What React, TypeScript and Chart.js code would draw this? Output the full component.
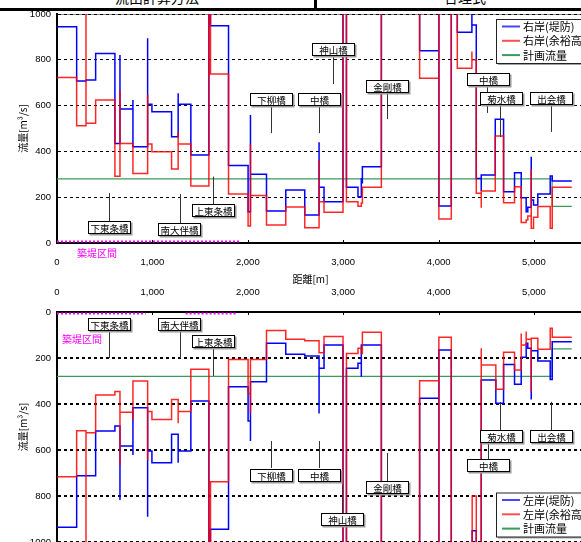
import React, { useEffect, useRef } from 'react';
import { Chart, registerables } from 'chart.js';

Chart.register(...registerables);

// ---------- data (distance [m] / flow [m3/s]) ----------
// Upper chart: right bank. Each value holds from its distance up to the next distance.
const rightLeveeDist = [0, 206, 304, 405, 607, 660, 660, 796, 796, 950, 950, 995, 1201, 1270, 1270, 1403, 1592, 1609, 1798, 2003, 2028, 2028, 2196, 2398, 2597, 2747, 2747, 2799, 2998, 3034, 3155, 3190, 3190, 3201, 3400, 3801, 4003, 4003, 4133, 4196, 4349, 4349, 4395, 4447, 4447, 4594, 4681, 4796, 4866, 4918, 4935, 4971, 4971, 4995, 5040, 5170, 5191, 5396];
const rightLeveeFlow = [944, 707, 712, 828, 435, 821, 585, 624, 420, 894, 606, 573, 464, 654, 606, 384, 1500, 949, 338, 137, 559, 300, 140, 231, 122, 440, 243, 180, 1500, 243, 202, 284, 263, 333, 1500, 840, 1500, 162, 1500, 920, 1100, 952, 282, 227, 297, 540, 224, 307, 198, 137, 156, 377, 188, 166, 214, 293, 271, 271];

const rightFreeDist = [0, 206, 304, 304, 405, 607, 660, 660, 796, 950, 950, 995, 1201, 1270, 1270, 1403, 1592, 1609, 1798, 2003, 2028, 2028, 2196, 2398, 2597, 2747, 2747, 2799, 2998, 3034, 3155, 3190, 3201, 3400, 3801, 4003, 4003, 4133, 4196, 4349, 4349, 4395, 4447, 4447, 4594, 4681, 4796, 4866, 4918, 4935, 4971, 4971, 4995, 5040, 5170, 5191, 5396];
const rightFreeFlow = [723, 512, 1500, 523, 624, 292, 665, 435, 304, 646, 432, 399, 323, 486, 432, 249, 1500, 738, 214, 74, 431, 207, 79, 157, 67, 362, 180, 134, 1500, 180, 160, 175, 243, 1500, 719, 1500, 105, 1500, 763, 836, 800, 217, 154, 227, 467, 176, 246, 89, 100, 118, 322, 64, 112, 159, 64, 243, 243];

// Lower chart: left bank.
const leftLeveeDist = [0, 206, 405, 607, 660, 660, 796, 796, 950, 950, 995, 1201, 1270, 1270, 1403, 1592, 1609, 1798, 2003, 2028, 2028, 2196, 2398, 2597, 2747, 2747, 2799, 2998, 3034, 3155, 3190, 3190, 3400, 3801, 4003, 4003, 4133, 4352, 4395, 4447, 4600, 4681, 4796, 4866, 4918, 4935, 4971, 4971, 5040, 5170, 5191, 5396];
const leftLeveeFlow = [936, 712, 517, 496, 817, 583, 622, 416, 890, 604, 655, 532, 655, 604, 387, 1500, 945, 325, 474, 561, 303, 136, 184, 191, 441, 245, 143, 1500, 245, 223, 281, 143, 1500, 375, 1500, 165, 1500, 951, 1500, 296, 397, 228, 314, 197, 136, 158, 380, 168, 213, 293, 129, 129];

const leftFreeDist = [0, 206, 304, 304, 405, 607, 660, 660, 796, 796, 950, 950, 995, 1201, 1270, 1270, 1403, 1592, 1609, 1798, 2003, 2028, 2028, 2196, 2398, 2597, 2747, 2799, 2998, 3034, 3155, 3190, 3201, 3400, 3801, 4003, 4003, 4133, 4352, 4395, 4447, 4447, 4600, 4681, 4796, 4866, 4866, 4918, 4918, 4971, 4971, 5040, 5170, 5191, 5396];
const leftFreeFlow = [716, 516, 1500, 525, 361, 346, 665, 436, 470, 300, 643, 433, 467, 380, 484, 433, 249, 1500, 738, 206, 354, 440, 206, 80, 119, 125, 177, 107, 1500, 180, 158, 180, 88, 1500, 299, 1500, 110, 1500, 800, 1500, 158, 230, 336, 175, 252, 93, 143, 85, 119, 346, 114, 162, 71, 110, 110];

// Planned flow
const planDist = [0, 5190, 5396];
const planFlow = [280, 160, 160];

// Axis ticks
const xTicks = [0, 1000, 2000, 3000, 4000, 5000];
const yTicks = [0, 200, 400, 600, 800, 1000];

// Levee sections (築堤区間), [from, to] in m
const leveeSectionsTop = [[0, 1916]];
const leveeSectionsBottom = [[0, 929], [1348, 1888]];

// Bridges: name, leader distance, leader flow from, leader flow to, box distance, box flow
type Bridge = [string, number, number, number, number, number];
const bridgesTop: Bridge[] = [
  ['下東条橋', 548, 218, 96, 545, 70],
  ['南大伴橋', 1289, 214, 87, 1279, 63],
  ['上東条橋', 1638, 290, 170, 1630, 144],
  ['下柳橋', 2240, 603, 480, 2243, 629],
  ['中橋', 2746, 603, 480, 2746, 629],
  ['神山橋', 2896, 817, 694, 2898, 845],
  ['金剛橋', 3456, 659, 541, 3459, 686],
  ['中橋', 4510, 690, 568, 4518, 716],
  ['菊水橋', 4644, 607, 463, 4649, 633],
  ['出会橋', 5175, 607, 485, 5178, 633],
];
const bridgesBottom: Bridge[] = [
  ['下東条橋', 548, 83, 200, 545, 54],
  ['南大伴橋', 1289, 83, 200, 1283, 54],
  ['上東条橋', 1630, 152, 278, 1630, 126],
  ['下柳橋', 2240, 561, 678, 2243, 707],
  ['中橋', 2746, 561, 678, 2746, 707],
  ['神山橋', 2991, 752, 874, 2987, 900],
  ['金剛橋', 3456, 613, 735, 3459, 761],
  ['中橋', 4521, 565, 639, 4518, 667],
  ['菊水橋', 4644, 391, 513, 4649, 539],
  ['出会橋', 5175, 391, 513, 5178, 539],
];

const legendTopLabels = ['右岸(堤防)', '右岸(余裕高)', '計画流量'];
const legendBottomLabels = ['左岸(堤防)', '左岸(余裕高)', '計画流量'];
const yTitle = '流量[m³/s]';
const xTitle = '距離[m]';
const sectionText = '築堤区間';
const headerLeft = '流出計算方法';
const headerRight = '合理式';

// ---------- styles ----------
const JP = '"Noto Sans CJK JP", "Noto Sans", sans-serif';
const NUM = '"Liberation Sans", Arial, sans-serif';
const BLUE = '#0000ff';
const RED = 'rgba(255,0,0,0.85)';
const GREEN = '#3a9a5a';

const toPoints = (xs: number[], ys: number[]) => xs.map((x, i) => ({ x, y: ys[i] }));

interface Spec {
  levee: { x: number; y: number }[];
  free: { x: number; y: number }[];
  plan: { x: number; y: number }[];
  reverse: boolean;
  bridges: Bridge[];
  sections: number[][];
  sectionLabel: [number, number];
  legendLabels: string[];
  legendTop: number;
  showXTitle: boolean;
  padTop: number;
  padBottom: number;
  xAxisH: number;
  gridWidth: number;
  topBorder: boolean;
}

const overlay = (spec: Spec) => ({
  id: 'overlay',
  beforeDraw(chart: any) {
    if (!spec.topBorder) return;
    const { ctx, chartArea: ca } = chart;
    ctx.save();
    ctx.strokeStyle = '#8a8a8a';
    ctx.lineWidth = 1;
    ctx.beginPath();
    ctx.moveTo(ca.left, Math.round(ca.top) + 0.5);
    ctx.lineTo(ca.right, Math.round(ca.top) + 0.5);
    ctx.stroke();
    ctx.restore();
  },
  afterDraw(chart: any) {
    const { ctx, chartArea: ca, scales } = chart;
    const xs = scales.x;
    const ys = scales.y;
    ctx.save();
    // levee sections
    ctx.strokeStyle = '#ff00ff';
    ctx.lineWidth = 2;
    ctx.setLineDash([2, 2]);
    const sy = spec.reverse ? ca.top + 1.5 : ca.bottom - 1.5;
    spec.sections.forEach(([a, b]) => {
      ctx.beginPath();
      ctx.moveTo(xs.getPixelForValue(a), sy);
      ctx.lineTo(xs.getPixelForValue(b), sy);
      ctx.stroke();
    });
    ctx.setLineDash([]);
    ctx.fillStyle = '#ff00ff';
    ctx.font = `10px ${JP}`;
    ctx.textAlign = 'center';
    ctx.textBaseline = 'middle';
    ctx.fillText(sectionText, spec.sectionLabel[0], spec.sectionLabel[1]);

    // x-axis tick marks (pointing into the plot)
    ctx.strokeStyle = '#000';
    ctx.lineWidth = 1;
    xTicks.forEach((t) => {
      if (t === 0) return;
      const px = Math.round(xs.getPixelForValue(t)) + 0.5;
      ctx.beginPath();
      if (spec.reverse) {
        ctx.moveTo(px, ca.top);
        ctx.lineTo(px, ca.top + 3);
      } else {
        ctx.moveTo(px, ca.bottom);
        ctx.lineTo(px, ca.bottom - 3);
      }
      ctx.stroke();
    });

    // bridges
    spec.bridges.forEach(([name, d, f1, f2, bd, bf]) => {
      const lx = Math.round(xs.getPixelForValue(d)) + 0.5;
      ctx.strokeStyle = '#333';
      ctx.lineWidth = 1;
      ctx.beginPath();
      ctx.moveTo(lx, ys.getPixelForValue(f1));
      ctx.lineTo(lx, ys.getPixelForValue(f2));
      ctx.stroke();
      const cx = xs.getPixelForValue(bd);
      const cy = ys.getPixelForValue(bf);
      const w = 42;
      const h = 12;
      const bx = Math.round(cx - w / 2) + 0.5;
      const by = Math.round(cy - h / 2) + 0.5;
      ctx.fillStyle = '#9a9a9a';
      ctx.fillRect(bx + 1, by + 1, w + 1, h + 1);
      ctx.fillStyle = '#fff';
      ctx.fillRect(bx, by, w, h);
      ctx.strokeStyle = '#000';
      ctx.strokeRect(bx, by, w, h);
      ctx.fillStyle = '#000';
      ctx.font = `9.5px ${JP}`;
      ctx.fillText(name, bx + w / 2, by + h / 2 + 0.5);
    });

    // legend
    const lx0 = 496.5;
    const ly0 = spec.legendTop + 0.5;
    const lw = 110;
    const lh = 44;
    ctx.fillStyle = '#a0a0a0';
    ctx.fillRect(lx0 + 1.5, ly0 + 1.5, lw, lh);
    ctx.fillStyle = '#fff';
    ctx.fillRect(lx0, ly0, lw, lh);
    ctx.strokeStyle = '#222';
    ctx.lineWidth = 1;
    ctx.strokeRect(lx0, ly0, lw, lh);
    const cols = ['#4545ff', '#ff5050', GREEN];
    ctx.font = `11px ${JP}`;
    ctx.textAlign = 'left';
    spec.legendLabels.forEach((t, i) => {
      const yy = ly0 + 7 + i * 14.3;
      ctx.strokeStyle = cols[i];
      ctx.lineWidth = 2;
      ctx.beginPath();
      ctx.moveTo(502, yy);
      ctx.lineTo(520, yy);
      ctx.stroke();
      ctx.fillStyle = '#000';
      ctx.fillText(t, 523, yy + 0.5);
    });

    // axis titles
    ctx.fillStyle = '#000';
    ctx.font = `10px ${JP}`;
    ctx.textAlign = 'center';
    ctx.save();
    ctx.translate(23.5, (ca.top + ca.bottom) / 2);
    ctx.rotate(-Math.PI / 2);
    ctx.fillText(yTitle, 0, 0);
    ctx.restore();
    if (spec.showXTitle) ctx.fillText(xTitle, 310.5, 279);
    ctx.restore();
  },
});

function makeChart(canvas: HTMLCanvasElement, spec: Spec) {
  const line = (label: string, data: any, color: string, width: number) => ({
    label,
    data,
    borderColor: color,
    backgroundColor: color,
    borderWidth: width,
    stepped: true as const,
    pointRadius: 0,
    fill: false,
  });
  return new Chart(canvas, {
    type: 'line',
    data: {
      datasets: [
        line(spec.legendLabels[1], spec.free, RED, 1.5),
        line(spec.legendLabels[0], spec.levee, BLUE, 1.5),
        line(spec.legendLabels[2], spec.plan, GREEN, 1.2),
      ],
    },
    options: {
      responsive: false,
      maintainAspectRatio: false,
      animation: false,
      devicePixelRatio: 1,
      layout: {
        autoPadding: false,
        padding: { left: 0, right: 18.3, top: spec.padTop, bottom: spec.padBottom },
      },
      plugins: { legend: { display: false }, tooltip: { enabled: false } },
      scales: {
        x: {
          type: 'linear',
          position: spec.reverse ? 'top' : 'bottom',
          min: 0,
          max: 5500,
          afterBuildTicks: (s: any) => {
            s.ticks = xTicks.map((value) => ({ value }));
          },
          afterFit: (s: any) => {
            s.height = spec.xAxisH;
          },
          grid: { display: false },
          border: { display: true, color: '#000', width: 2 },
          ticks: {
            padding: 6,
            color: '#000',
            font: { family: NUM, size: 9.5 },
            callback: (v: any) => Number(v).toLocaleString('en-US'),
          },
        },
        y: {
          type: 'linear',
          min: 0,
          max: 1000,
          reverse: spec.reverse,
          afterBuildTicks: (s: any) => {
            s.ticks = yTicks.map((value) => ({ value }));
          },
          afterFit: (s: any) => {
            s.width = 57;
          },
          grid: { color: '#000', lineWidth: spec.gridWidth, drawTicks: false },
          border: { display: true, color: '#000', width: 2, dash: [3, 3] },
          ticks: {
            padding: 6,
            color: '#000',
            font: { family: NUM, size: 9.5 },
            callback: (v: any) => String(v),
          },
        },
      },
    },
    plugins: [overlay(spec)],
  } as any);
}

export default function App() {
  const topRef = useRef<HTMLCanvasElement>(null);
  const botRef = useRef<HTMLCanvasElement>(null);

  useEffect(() => {
    const topSpec: Spec = {
      levee: toPoints(rightLeveeDist, rightLeveeFlow),
      free: toPoints(rightFreeDist, rightFreeFlow),
      plan: toPoints(planDist, planFlow),
      reverse: false,
      bridges: bridgesTop,
      sections: leveeSectionsTop,
      sectionLabel: [97, 253],
      legendLabels: legendTopLabels,
      legendTop: 19,
      showXTitle: true,
      padTop: 14,
      padBottom: 0,
      xAxisH: 42,
      gridWidth: 1,
      topBorder: true,
    };
    const botSpec: Spec = {
      levee: toPoints(leftLeveeDist, leftLeveeFlow),
      free: toPoints(leftFreeDist, leftFreeFlow),
      plan: toPoints(planDist, planFlow),
      reverse: true,
      bridges: bridgesBottom,
      sections: leveeSectionsBottom,
      sectionLabel: [82, 54],
      legendLabels: legendBottomLabels,
      legendTop: 207.5,
      showXTitle: false,
      padTop: 0,
      padBottom: 13,
      xAxisH: 27,
      gridWidth: 2,
      topBorder: false,
    };
    const c1 = makeChart(topRef.current!, topSpec);
    const c2 = makeChart(botRef.current!, botSpec);
    return () => {
      c1.destroy();
      c2.destroy();
    };
  }, []);

  const headText: React.CSSProperties = {
    position: 'absolute',
    top: -10,
    fontFamily: JP,
    fontSize: 14,
    lineHeight: '14px',
    color: '#000',
    whiteSpace: 'nowrap',
    transform: 'translateX(-50%)',
  };

  return (
    <div style={{ position: 'absolute', left: 0, top: 0, width: 581, height: 542, overflow: 'hidden', background: '#fff' }}>
      <div style={{ ...headText, left: 157 }}>{headerLeft}</div>
      <div style={{ ...headText, left: 465 }}>{headerRight}</div>
      <div style={{ position: 'absolute', left: 0, top: 8, width: 600, height: 2.5, background: '#000' }} />
      <div style={{ position: 'absolute', left: 313.5, top: 0, width: 3, height: 9, background: '#000' }} />
      <canvas ref={topRef} width={600} height={285} style={{ position: 'absolute', left: 0, top: 0, width: 600, height: 285 }} />
      <canvas ref={botRef} width={600} height={270} style={{ position: 'absolute', left: 0, top: 285, width: 600, height: 270 }} />
    </div>
  );
}
